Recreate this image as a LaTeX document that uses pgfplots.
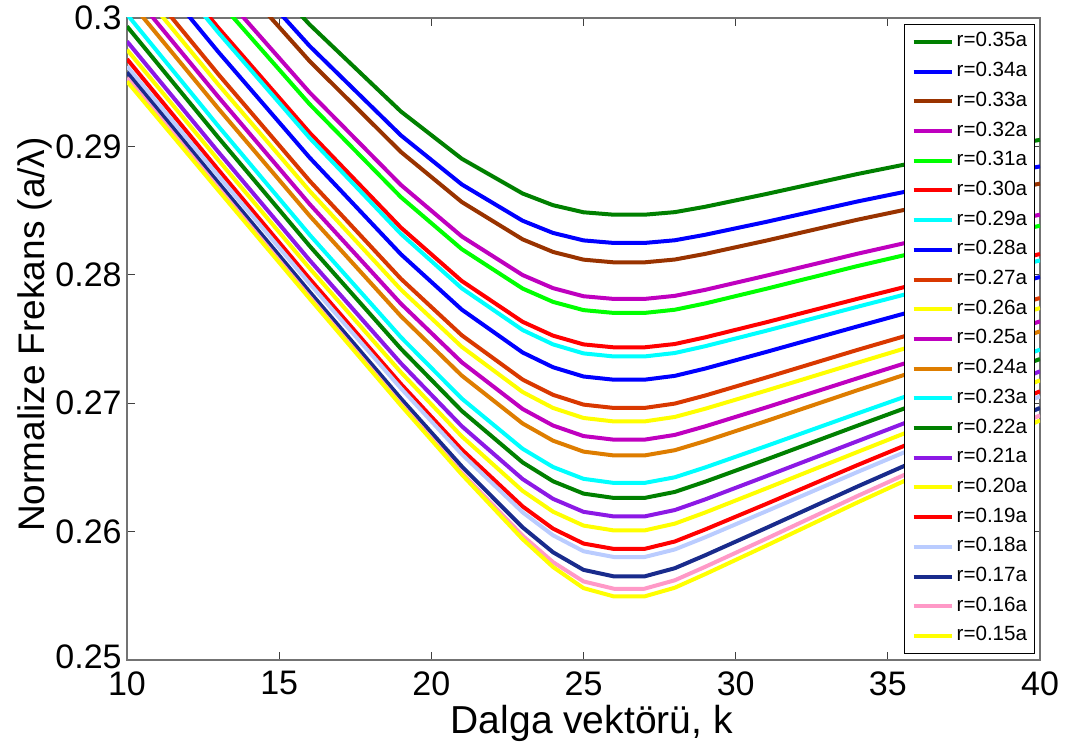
\documentclass[border=0pt]{standalone}
\usepackage{fontspec}
\setmainfont{Liberation Sans}
\usepackage{pgfplots}
\usepackage{pgfplotstable}
\pgfplotsset{compat=1.18}

\definecolor{c35}{rgb}{0,0.5,0}
\definecolor{c34}{rgb}{0,0,1}
\definecolor{c33}{rgb}{0.6,0.2,0}
\definecolor{c32}{rgb}{0.75,0,0.75}
\definecolor{c31}{rgb}{0,1,0}
\definecolor{c30}{rgb}{1,0,0}
\definecolor{c29}{rgb}{0,1,1}
\definecolor{c28}{rgb}{0,0,1}
\definecolor{c27}{rgb}{0.85,0.22,0}
\definecolor{c26}{rgb}{1,1,0}
\definecolor{c25}{rgb}{0.75,0,0.75}
\definecolor{c24}{rgb}{0.87,0.49,0}
\definecolor{c23}{rgb}{0,1,1}
\definecolor{c22}{rgb}{0,0.5,0}
\definecolor{c21}{rgb}{0.55,0.1,0.9}
\definecolor{c20}{rgb}{1,1,0}
\definecolor{c19}{rgb}{1,0,0}
\definecolor{c18}{rgb}{0.73,0.8,1}
\definecolor{c17}{rgb}{0.1,0.17,0.55}
\definecolor{c16}{rgb}{1,0.6,0.78}
\definecolor{c15}{rgb}{1,1,0}

\pgfplotstableread{
k r35 r34 r33 r32 r31 r30 r29 r28 r27 r26 r25 r24 r23 r22 r21 r20 r19 r18 r17 r16 r15
10 0.31547 0.31412 0.31306 0.31082 0.30989 0.30785 0.30750 0.30598 0.30427 0.30345 0.30247 0.30157 0.30029 0.29935 0.29818 0.29753 0.29680 0.29623 0.29576 0.29533 0.29506
13 0.30719 0.30569 0.30459 0.30226 0.30136 0.29924 0.29887 0.29736 0.29562 0.29482 0.29386 0.29295 0.29158 0.29069 0.28957 0.28894 0.28818 0.28772 0.28717 0.28677 0.28658
16 0.29949 0.29782 0.29664 0.29420 0.29329 0.29107 0.29066 0.28913 0.28732 0.28653 0.28551 0.28460 0.28312 0.28225 0.28114 0.28051 0.27969 0.27931 0.27867 0.27828 0.27815
19 0.29272 0.29086 0.28957 0.28700 0.28605 0.28368 0.28319 0.28160 0.27969 0.27885 0.27775 0.27678 0.27514 0.27424 0.27311 0.27241 0.27150 0.27116 0.27036 0.26994 0.26983
21 0.28904 0.28704 0.28567 0.28299 0.28200 0.27952 0.27895 0.27729 0.27529 0.27439 0.27319 0.27215 0.27036 0.26940 0.26821 0.26742 0.26639 0.26603 0.26508 0.26459 0.26445
23 0.28633 0.28421 0.28276 0.27998 0.27893 0.27634 0.27570 0.27395 0.27184 0.27087 0.26955 0.26842 0.26645 0.26539 0.26409 0.26317 0.26196 0.26150 0.26033 0.25968 0.25941
24 0.28542 0.28326 0.28178 0.27896 0.27789 0.27526 0.27458 0.27280 0.27065 0.26963 0.26826 0.26708 0.26503 0.26392 0.26255 0.26155 0.26023 0.25971 0.25839 0.25762 0.25724
25 0.28487 0.28268 0.28118 0.27833 0.27725 0.27458 0.27388 0.27208 0.26989 0.26885 0.26744 0.26623 0.26411 0.26296 0.26154 0.26047 0.25907 0.25847 0.25702 0.25612 0.25560
26 0.28468 0.28248 0.28097 0.27812 0.27703 0.27435 0.27364 0.27183 0.26963 0.26858 0.26716 0.26593 0.26379 0.26262 0.26118 0.26009 0.25865 0.25802 0.25651 0.25555 0.25495
27 0.28468 0.28248 0.28097 0.27812 0.27703 0.27435 0.27364 0.27183 0.26963 0.26858 0.26716 0.26593 0.26379 0.26262 0.26118 0.26009 0.25865 0.25802 0.25651 0.25555 0.25495
28 0.28488 0.28269 0.28119 0.27836 0.27728 0.27461 0.27391 0.27213 0.26997 0.26893 0.26753 0.26634 0.26423 0.26309 0.26168 0.26062 0.25923 0.25861 0.25715 0.25621 0.25563
29 0.28530 0.28312 0.28163 0.27883 0.27777 0.27513 0.27444 0.27270 0.27060 0.26957 0.26820 0.26705 0.26500 0.26389 0.26251 0.26149 0.26017 0.25956 0.25816 0.25726 0.25669
31 0.28629 0.28412 0.28266 0.27993 0.27891 0.27630 0.27564 0.27399 0.27200 0.27098 0.26967 0.26861 0.26666 0.26561 0.26431 0.26336 0.26215 0.26158 0.26028 0.25944 0.25890
34 0.28785 0.28571 0.28429 0.28164 0.28068 0.27813 0.27751 0.27598 0.27415 0.27315 0.27194 0.27101 0.26920 0.26825 0.26704 0.26620 0.26518 0.26464 0.26351 0.26277 0.26227
37 0.28927 0.28716 0.28578 0.28324 0.28233 0.27991 0.27935 0.27793 0.27622 0.27530 0.27418 0.27334 0.27171 0.27086 0.26977 0.26902 0.26811 0.26763 0.26664 0.26598 0.26553
40 0.29051 0.28844 0.28710 0.28468 0.28382 0.28162 0.28112 0.27983 0.27819 0.27741 0.27637 0.27559 0.27417 0.27344 0.27248 0.27178 0.27092 0.27053 0.26963 0.26905 0.26866
}\datatable

\begin{document}
\begin{tikzpicture}
\begin{axis}[
  scale only axis,
  width=456.5pt, height=321pt,
  xmin=10, xmax=40, ymin=0.25, ymax=0.3,
  xtick={10,15,20,25,30,35,40},
  ytick={0.25,0.26,0.27,0.28,0.29,0.3},
  yticklabels={\raisebox{3pt}{0.25},0.26,0.27,0.28,0.29,0.3},
  scaled y ticks=false,
  /pgf/number format/assume math mode=true,
  tick align=inside,
  major tick length=4pt,
  tick style={color=black!75, line width=0.6pt},
  axis line style={color=black!55, line width=0.8pt},
  ticklabel style={font=\fontsize{17}{17}\selectfont},
  yticklabel style={inner xsep=2.5pt},
  xticklabel style={yshift=-2.2pt},
  xlabel={Dalga vektörü, k},
  ylabel={Normalize Frekans (a/λ)},
  xlabel style={at={(axis description cs:0.509,-0.1137)}, anchor=base, font=\fontsize{19.5}{20}\selectfont},
  ylabel style={at={(axis description cs:-0.09,0.507)}, anchor=base, font=\fontsize{18.5}{19}\selectfont},
  legend cell align=left,
  legend style={at={(1,1)}, anchor=north east, xshift=-2.5pt, yshift=-3pt,
    draw=black, line width=0.5pt, font=\fontsize{10.3}{10.3}\selectfont,
    inner sep=3.7pt, row sep=4.85pt,
    nodes={inner sep=0pt, text height=7.5pt, text depth=2.5pt},
    /tikz/every odd column/.append style={column sep=1.5pt}},
  legend image code/.code={\draw[#1] (0pt,0pt) -- (19pt,0pt);},
  every axis plot/.append style={line width=2pt, line join=round},
]
\addplot[color=c35] table[x=k,y=r35] {\datatable}; \addlegendentry{r=0.35a}
\addplot[color=c34] table[x=k,y=r34] {\datatable}; \addlegendentry{r=0.34a}
\addplot[color=c33] table[x=k,y=r33] {\datatable}; \addlegendentry{r=0.33a}
\addplot[color=c32] table[x=k,y=r32] {\datatable}; \addlegendentry{r=0.32a}
\addplot[color=c31] table[x=k,y=r31] {\datatable}; \addlegendentry{r=0.31a}
\addplot[color=c30] table[x=k,y=r30] {\datatable}; \addlegendentry{r=0.30a}
\addplot[color=c29] table[x=k,y=r29] {\datatable}; \addlegendentry{r=0.29a}
\addplot[color=c28] table[x=k,y=r28] {\datatable}; \addlegendentry{r=0.28a}
\addplot[color=c27] table[x=k,y=r27] {\datatable}; \addlegendentry{r=0.27a}
\addplot[color=c26] table[x=k,y=r26] {\datatable}; \addlegendentry{r=0.26a}
\addplot[color=c25] table[x=k,y=r25] {\datatable}; \addlegendentry{r=0.25a}
\addplot[color=c24] table[x=k,y=r24] {\datatable}; \addlegendentry{r=0.24a}
\addplot[color=c23] table[x=k,y=r23] {\datatable}; \addlegendentry{r=0.23a}
\addplot[color=c22] table[x=k,y=r22] {\datatable}; \addlegendentry{r=0.22a}
\addplot[color=c21] table[x=k,y=r21] {\datatable}; \addlegendentry{r=0.21a}
\addplot[color=c20] table[x=k,y=r20] {\datatable}; \addlegendentry{r=0.20a}
\addplot[color=c19] table[x=k,y=r19] {\datatable}; \addlegendentry{r=0.19a}
\addplot[color=c18] table[x=k,y=r18] {\datatable}; \addlegendentry{r=0.18a}
\addplot[color=c17] table[x=k,y=r17] {\datatable}; \addlegendentry{r=0.17a}
\addplot[color=c16] table[x=k,y=r16] {\datatable}; \addlegendentry{r=0.16a}
\addplot[color=c15] table[x=k,y=r15] {\datatable}; \addlegendentry{r=0.15a}
\end{axis}
\pgfresetboundingbox
\path[use as bounding box] ([xshift=-63.5pt,yshift=-42.5pt]current axis.south west) rectangle ([xshift=13.5pt,yshift=9pt]current axis.north east);
\end{tikzpicture}
\end{document}
